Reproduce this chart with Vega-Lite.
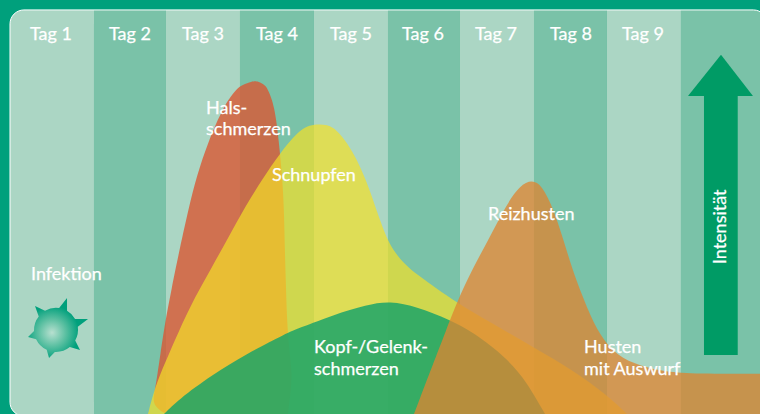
{"$schema":"https://vega.github.io/schema/vega-lite/v6.json","width":760,"height":414,"autosize":{"type":"fit","contains":"padding"},"padding":0,"background":"#00a07c","config":{"view":{"stroke":null}},
"datasets":{
"tage":[{"tag":1,"bis":1.973,"oben":97.6,"unten":-0.5,"art":"dunkel"},{"tag":1.973,"bis":2.973,"oben":97.6,"unten":-0.5,"art":"hell"},{"tag":2.973,"bis":3.973,"oben":97.6,"unten":-0.5,"art":"dunkel"},{"tag":3.973,"bis":4.973,"oben":97.6,"unten":-0.5,"art":"hell"},{"tag":4.973,"bis":5.946,"oben":97.6,"unten":-0.5,"art":"dunkel"},{"tag":5.946,"bis":6.946,"oben":97.6,"unten":-0.5,"art":"hell"},{"tag":6.946,"bis":7.932,"oben":97.6,"unten":-0.5,"art":"dunkel"},{"tag":7.932,"bis":8.932,"oben":97.6,"unten":-0.5,"art":"hell"}],
"ersterTag":[{"tag":-0.135,"bis":1,"oben":97.6,"unten":-0.5}],
"letzterTag":[{"tag":8.932,"bis":10.1,"oben":97.6,"unten":-0.5}],
"rahmen":[{"tag":-0.135,"bis":10.1,"oben":97.6,"unten":-0.5}],
"hals":[{"i":80.4,"von":3.176,"bis":3.176},{"i":80.2,"von":3.108,"bis":3.243},{"i":79.2,"von":2.973,"bis":3.324},{"i":78.3,"von":2.919,"bis":3.351},{"i":74.6,"von":2.757,"bis":3.439},{"i":65.7,"von":2.541,"bis":3.5},{"i":57.7,"von":2.392,"bis":3.541},{"i":49.8,"von":2.28,"bis":3.568},{"i":37.9,"von":2.135,"bis":3.581},{"i":30.7,"von":2.054,"bis":3.595},{"i":22,"von":1.959,"bis":3.608},{"i":13.8,"von":1.892,"bis":3.649},{"i":9.9,"von":1.86,"bis":3.676},{"i":5.8,"von":1.824,"bis":3.662},{"i":2.2,"von":1.78,"bis":3.635},{"i":0,"von":1.973,"bis":3.622}],
"schnupfen":[{"tag":1.73,"i":0},{"tag":1.824,"i":6.5},{"tag":1.959,"i":12.3},{"tag":2.135,"i":19.6},{"tag":2.365,"i":28.3},{"tag":2.595,"i":35.5},{"tag":2.811,"i":42.5},{"tag":3.041,"i":50},{"tag":3.284,"i":57},{"tag":3.514,"i":63},{"tag":3.743,"i":67.9},{"tag":3.878,"i":69.6},{"tag":4.014,"i":70},{"tag":4.149,"i":69.9},{"tag":4.284,"i":68.7},{"tag":4.5,"i":63.6},{"tag":4.689,"i":56},{"tag":4.797,"i":50.3},{"tag":4.865,"i":46.9},{"tag":4.973,"i":41.6},{"tag":5.135,"i":37.2},{"tag":5.365,"i":33.6},{"tag":5.905,"i":26.8},{"tag":6.351,"i":22.2},{"tag":6.932,"i":16.2},{"tag":7.473,"i":10.6},{"tag":7.932,"i":4.6},{"tag":8.203,"i":0}],
"kopf":[{"tag":1.946,"i":0},{"tag":2.135,"i":3.4},{"tag":2.595,"i":9.4},{"tag":3.041,"i":14.3},{"tag":3.608,"i":19.6},{"tag":3.784,"i":20.8},{"tag":4.23,"i":23.9},{"tag":4.689,"i":26.4},{"tag":5,"i":27.3},{"tag":5.365,"i":25.9},{"tag":5.811,"i":22.7},{"tag":6.122,"i":19.8},{"tag":6.581,"i":13.5},{"tag":6.851,"i":7.7},{"tag":7.095,"i":0}],
"husten":[{"tag":5.324,"i":0},{"tag":5.811,"i":22.7},{"tag":5.946,"i":28.7},{"tag":6.122,"i":35.3},{"tag":6.351,"i":42.8},{"tag":6.581,"i":50.8},{"tag":6.757,"i":55.2},{"tag":6.919,"i":56.6},{"tag":7.054,"i":55.2},{"tag":7.203,"i":49.8},{"tag":7.338,"i":42.5},{"tag":7.473,"i":34.3},{"tag":7.662,"i":25.6},{"tag":7.838,"i":18.9},{"tag":8.068,"i":14},{"tag":8.378,"i":11.6},{"tag":8.716,"i":10.2},{"tag":9.149,"i":9.7},{"tag":10,"i":9.7}],
"pfeilspitze":[{"tag":9.027,"i":76.8,"basis":76.8},{"tag":9.473,"i":86.8,"basis":76.8},{"tag":9.905,"i":76.8,"basis":76.8}],
"pfeilschaft":[{"tag":9.243,"bis":9.699,"oben":76.8,"unten":14.25}],
"virus":[{"tag":0.514,"i":20.8}],
"kopfzeile":[{"tag":0.419,"i":90.3,"label":"Tag 1"},{"tag":1.486,"i":90.3,"label":"Tag 2"},{"tag":2.473,"i":90.3,"label":"Tag 3"},{"tag":3.473,"i":90.3,"label":"Tag 4"},{"tag":4.473,"i":90.3,"label":"Tag 5"},{"tag":5.446,"i":90.3,"label":"Tag 6"},{"tag":6.432,"i":90.3,"label":"Tag 7"},{"tag":7.446,"i":90.3,"label":"Tag 8"},{"tag":8.419,"i":90.3,"label":"Tag 9"}],
"halstext":[{"tag":2.514,"i":72.4,"label":"Hals-\nschmerzen"}],
"beschriftung":[{"tag":3.405,"i":56.3,"label":"Schnupfen"},{"tag":0.149,"i":32.4,"label":"Infektion"},{"tag":6.324,"i":46.9,"label":"Reizhusten"},{"tag":3.973,"i":14.7,"label":"Kopf-/Gelenk-\nschmerzen"},{"tag":7.622,"i":14.7,"label":"Husten\nmit Auswurf"}],
"achse":[{"tag":9.473,"i":36.2,"label":"Intensität"}]
},
"encoding":{"x":{"field":"tag","type":"quantitative","axis":null,"scale":{"domain":[-0.27,10],"nice":false,"zero":false}},"y":{"field":"i","type":"quantitative","axis":null,"scale":{"domain":[0,100],"nice":false,"zero":false}}},
"layer":[
{"data":{"name":"tage"},"mark":{"type":"rect","clip":true},"encoding":{"x2":{"field":"bis"},"y":{"field":"oben","type":"quantitative"},"y2":{"field":"unten"},"color":{"field":"art","type":"nominal","legend":null,"scale":{"domain":["hell","dunkel"],"range":["#abd6c4","#7ac2a8"]}}}},
{"data":{"name":"ersterTag"},"mark":{"type":"rect","clip":true,"fill":"#abd6c4","cornerRadiusTopLeft":14,"cornerRadiusBottomLeft":14},"encoding":{"x2":{"field":"bis"},"y":{"field":"oben","type":"quantitative"},"y2":{"field":"unten"}}},
{"data":{"name":"letzterTag"},"mark":{"type":"rect","clip":true,"fill":"#7ac2a8","cornerRadiusTopRight":14},"encoding":{"x2":{"field":"bis"},"y":{"field":"oben","type":"quantitative"},"y2":{"field":"unten"}}},
{"data":{"name":"rahmen"},"mark":{"type":"rect","clip":true,"fill":"transparent","stroke":"#ffffff","strokeWidth":1,"cornerRadius":14},"encoding":{"x2":{"field":"bis"},"y":{"field":"oben","type":"quantitative"},"y2":{"field":"unten"}}},
{"data":{"name":"hals"},"mark":{"type":"area","orient":"horizontal","interpolate":"basis","fill":"#d95733","opacity":0.8,"clip":true},"encoding":{"x":{"field":"von","type":"quantitative"},"x2":{"field":"bis"}}},
{"data":{"name":"schnupfen"},"mark":{"type":"area","interpolate":"basis","fill":"#f4df28","opacity":0.7,"clip":true},"encoding":{"y2":{"datum":0}}},
{"data":{"name":"kopf"},"mark":{"type":"area","interpolate":"basis","fill":"#1ba569","opacity":0.85,"clip":true},"encoding":{"y2":{"datum":0}}},
{"data":{"name":"husten"},"mark":{"type":"area","interpolate":"basis","fill":"#de8531","opacity":0.76,"clip":true},"encoding":{"y2":{"datum":0}}},
{"data":{"name":"pfeilschaft"},"mark":{"type":"rect","fill":"#009b65"},"encoding":{"x2":{"field":"bis"},"y":{"field":"oben","type":"quantitative"},"y2":{"field":"unten"}}},
{"data":{"name":"pfeilspitze"},"mark":{"type":"area","interpolate":"linear","fill":"#009b65"},"encoding":{"y2":{"field":"basis"}}},
{"data":{"name":"virus"},"mark":{"type":"point","filled":true,"opacity":1,"size":3600,"shape":"M.037,-.66L.3,-1L.3,-.568Q.47,-.47,.568,-.3L1,-.3L.66,-.037Q.693,.207,.573,.423L.733,.733L.393,.637Q.177,.813,-.105,.8L-.3,1L-.377,.73Q-.617,.617,-.73,.377L-1,.3L-.8,.105Q-.813,-.17,-.643,-.383L-.767,-.733L-.433,-.568Q-.213,-.697,.037,-.66Z","fill":{"gradient":"radial","x1":0.4,"y1":0.58,"x2":0.4,"y2":0.58,"r1":0,"r2":0.45,"stops":[{"offset":0,"color":"#b8e0d0"},{"offset":0.5,"color":"#5cc0a2"},{"offset":1,"color":"#00a07c"}]}}},
{"data":{"name":"kopfzeile"},"mark":{"type":"text","font":"Lato","fontSize":18,"color":"#ffffff","stroke":"#ffffff","strokeWidth":0.25,"align":"center","baseline":"alphabetic"},"encoding":{"text":{"field":"label"}}},
{"data":{"name":"halstext"},"mark":{"type":"text","font":"Lato","fontSize":18,"color":"#ffffff","stroke":"#ffffff","strokeWidth":0.25,"align":"left","baseline":"alphabetic","lineBreak":"\n","lineHeight":21},"encoding":{"text":{"field":"label"}}},
{"data":{"name":"beschriftung"},"mark":{"type":"text","font":"Lato","fontSize":18,"color":"#ffffff","stroke":"#ffffff","strokeWidth":0.25,"align":"left","baseline":"alphabetic","lineBreak":"\n","lineHeight":22},"encoding":{"text":{"field":"label"}}},
{"data":{"name":"achse"},"mark":{"type":"text","font":"Lato","fontSize":18,"color":"#ffffff","stroke":"#ffffff","strokeWidth":0.25,"align":"left","baseline":"middle","angle":270},"encoding":{"text":{"field":"label"}}}
]}
